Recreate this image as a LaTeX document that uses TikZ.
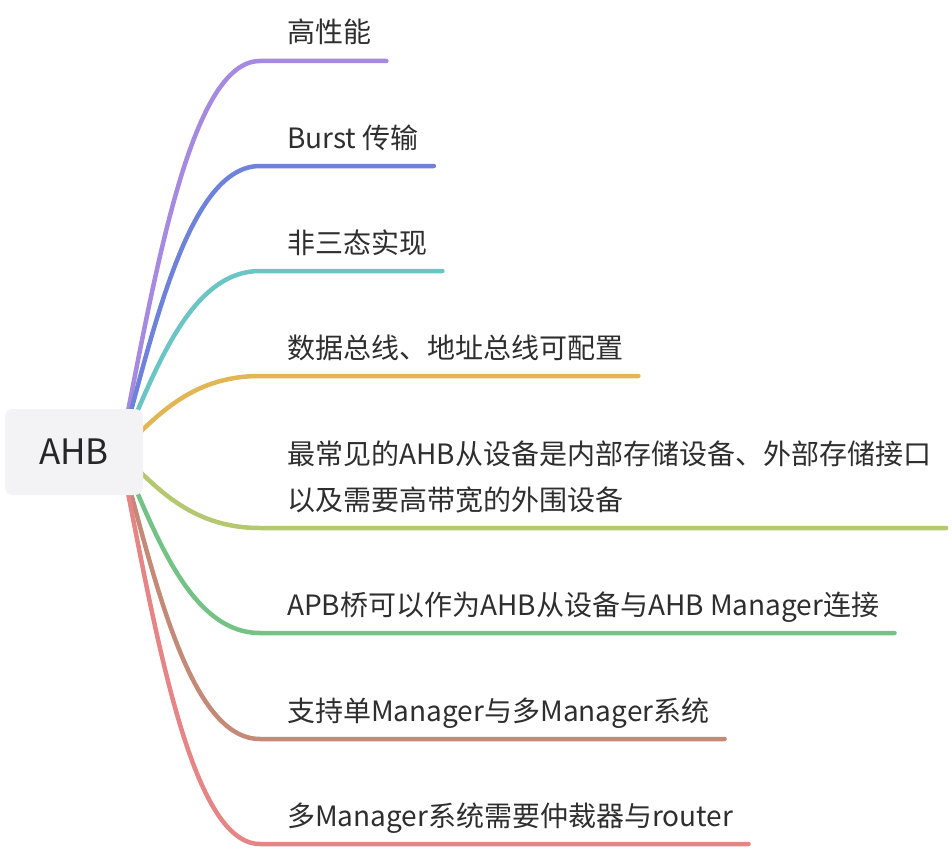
\documentclass[tikz,border=0pt]{standalone}
\usepackage{fontspec}
\setmainfont{Noto Sans CJK SC}
\usetikzlibrary{positioning,backgrounds}

\definecolor{rootGray}{RGB}{243,243,245}
\definecolor{brPurple}{RGB}{166,138,224}
\definecolor{brBlue}{RGB}{111,130,218}
\definecolor{brTeal}{RGB}{108,197,197}
\definecolor{brYellow}{RGB}{227,182,85}
\definecolor{brLime}{RGB}{180,201,111}
\definecolor{brGreen}{RGB}{116,194,134}
\definecolor{brBrown}{RGB}{195,139,119}
\definecolor{brRed}{RGB}{230,133,133}

\begin{document}
\begin{tikzpicture}[x = 1pt, y = -1pt,
  leaf/.style = {anchor=base west, inner sep=0pt, text=black!82,
    font=\fontsize{28}{46}\selectfont},
  branch/.style = {line width=4.5pt, line cap=round}]
\useasboundingbox (0,0) rectangle (952,848);
\node[fill=rootGray, rounded corners=8pt, minimum width=138pt, minimum height=86pt,
  text=black!85, font=\fontsize{35}{40}\selectfont] (ahb) at (74,452) {AHB};
\coordinate (hub) at (120,452);
% leaf texts, each one 18pt above its line
\node[leaf] (highPerf) at (287,43) {高性能};
\node[leaf] (burst) at (287,148) {Burst 传输};
\node[leaf] (noTri) at (287,253) {非三态实现};
\node[leaf] (busWidth) at (287,358) {数据总线、地址总线可配置};
\node[leaf, align=left] (commonSlave) at (287,510) {最常见的AHB从设备是内部存储设备、外部存储接口\\以及需要高带宽的外围设备};
\node[leaf] (apbBridge) at (287,615) {APB桥可以作为AHB从设备与AHB Manager连接};
\node[leaf] (multiMgr) at (287,721) {支持单Manager与多Manager系统};
\node[leaf] (arbiter) at (287,826) {多Manager系统需要仲裁器与router};
% where each curve turns flat
\coordinate (kHighPerf) at (260,61);
\coordinate (kBurst) at (260,166);
\coordinate (kNoTri) at (260,271);
\coordinate (kBusWidth) at (260,376);
\coordinate (kCommonSlave) at (260,528);
\coordinate (kApbBridge) at (260,633);
\coordinate (kMultiMgr) at (260,739);
\coordinate (kArbiter) at (260,844);
\begin{scope}[on background layer]
\draw[branch, brPurple] (hub) .. controls +(35,-176) and +(-70,0) .. (kHighPerf) -- ([xshift=15pt]kHighPerf -| highPerf.east);
\draw[branch, brBlue] (hub) .. controls +(35,-129) and +(-70,0) .. (kBurst) -- ([xshift=15pt]kBurst -| burst.east);
\draw[branch, brTeal] (hub) .. controls +(35,-81) and +(-70,0) .. (kNoTri) -- ([xshift=15pt]kNoTri -| noTri.east);
\draw[branch, brYellow] (hub) .. controls +(35,-34) and +(-70,0) .. (kBusWidth) -- ([xshift=15pt]kBusWidth -| busWidth.east);
\draw[branch, brLime] (hub) .. controls +(35,34) and +(-70,0) .. (kCommonSlave) -- ([xshift=15pt]kCommonSlave -| commonSlave.east);
\draw[branch, brGreen] (hub) .. controls +(35,81) and +(-70,0) .. (kApbBridge) -- ([xshift=15pt]kApbBridge -| apbBridge.east);
\draw[branch, brBrown] (hub) .. controls +(35,129) and +(-70,0) .. (kMultiMgr) -- ([xshift=15pt]kMultiMgr -| multiMgr.east);
\draw[branch, brRed] (hub) .. controls +(35,176) and +(-70,0) .. (kArbiter) -- ([xshift=15pt]kArbiter -| arbiter.east);
\end{scope}
\end{tikzpicture}
\end{document}
